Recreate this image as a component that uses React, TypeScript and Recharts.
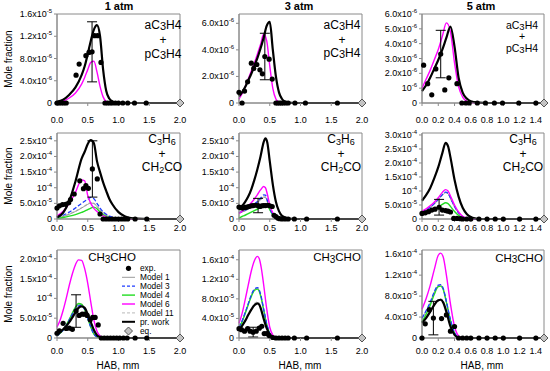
import React from 'react';
import { ComposedChart, Line, Scatter, XAxis, YAxis, ErrorBar, ReferenceArea } from 'recharts';

const FONT = '"Liberation Sans", Arial, sans-serif';

// ---------- Row 1: aC3H4 + pC3H4 (values in 1e-6) ----------
const p1Grid = [0, 0.1, 0.2, 0.3, 0.4, 0.45, 0.5, 0.55, 0.6, 0.65, 0.7, 0.75, 0.8, 0.85, 0.9, 0.95, 1.0, 1.2, 1.5, 2.0];
const p1PrWork = [0.2, 0.6, 1.5, 2.8, 5.0, 6.6, 8.8, 11.2, 13.2, 14.0, 12.0, 6.0, 2.2, 0.8, 0.3, 0.1, 0.03, 0, 0, 0];
const p1Model6 = [0.1, 0.35, 0.9, 1.8, 3.4, 4.6, 6.0, 7.3, 7.5, 5.6, 3.0, 1.1, 0.25, 0.03, 0, 0, 0, 0, 0, 0];
const p1ExpX = [0, 0.03, 0.07, 0.11, 0.15, 0.31, 0.36, 0.47, 0.52, 0.57, 0.61, 0.66, 0.715, 0.78, 0.82, 0.86, 0.9, 0.95, 1.0, 1.07, 1.15, 1.26, 1.45];
const p1ExpY = [0, 0, 0, 0, 0, 5.0, 7.0, 8.5, 9.1, 9.2, 12.1, 12.1, 7.3, 0, 0, 0, 0, 0, 0, 0, 0, 0, 0];
const p1ErrIndex = 9;
const p1ErrValue = 5.4;

const p2Grid = [0, 0.05, 0.1, 0.15, 0.2, 0.25, 0.3, 0.35, 0.4, 0.45, 0.5, 0.55, 0.6, 0.65, 0.7, 0.75, 0.8, 0.9, 1.0, 2.0];
const p2PrWork = [0.5, 0.8, 1.2, 1.7, 2.2, 2.8, 3.4, 4.1, 4.9, 5.8, 6.1, 4.0, 2.0, 0.8, 0.3, 0.1, 0.03, 0, 0, 0];
const p2Model6 = [0.3, 0.7, 1.2, 1.8, 2.4, 3.0, 3.7, 4.4, 5.2, 4.7, 2.8, 1.1, 0.3, 0.05, 0, 0, 0, 0, 0, 0];
const p2ExpX = [0, 0.05, 0.09, 0.14, 0.2, 0.24, 0.29, 0.34, 0.38, 0.42, 0.49, 0.54, 0.6, 0.63, 0.66, 0.69, 0.72, 0.76, 0.8, 0.91, 1.08, 1.6];
const p2ExpY = [0.8, 0, 0.9, 1.6, 3.0, 2.6, 2.9, 2.5, 2.2, 3.5, 3.3, 1.8, 0, 0, 0, 0, 0, 0, 0, 0, 0, 0];
const p2ErrIndex = 9;
const p2ErrValue = 1.75;

const p3Grid = [0, 0.05, 0.1, 0.15, 0.2, 0.25, 0.3, 0.35, 0.4, 0.45, 0.5, 0.55, 0.6, 0.7, 0.8, 1.0, 1.5];
const p3PrWork = [0.8, 1.2, 1.7, 2.3, 2.9, 3.6, 4.4, 5.15, 3.8, 1.7, 0.7, 0.3, 0.12, 0.03, 0, 0, 0];
const p3Model6 = [1.0, 1.6, 2.2, 2.9, 3.6, 4.5, 5.4, 4.8, 2.7, 1.1, 0.4, 0.12, 0.03, 0, 0, 0, 0];
const p3ExpX = [0.02, 0.07, 0.12, 0.17, 0.23, 0.28, 0.33, 0.43, 0.49, 0.54, 0.58, 0.68, 0.78, 0.89, 0.99, 1.19, 1.4];
const p3ExpY = [2.55, 1.3, 0.55, 2.3, 3.3, 0.88, 1.7, 1.3, 0, 0, 0, 0, 0, 0, 0, 0, 0];
const p3ErrIndex = 4;
const p3ErrValue = 1.6;

// ---------- Row 2: C3H6 + CH2CO (values in 1e-4) ----------
const p4Grid = [0, 0.1, 0.2, 0.3, 0.4, 0.45, 0.5, 0.55, 0.6, 0.65, 0.7, 0.75, 0.8, 0.85, 0.9, 1.0, 1.1, 1.2, 1.3, 1.5, 2.0];
const p4PrWork = [0.05, 0.2, 0.58, 1.2, 1.93, 2.15, 2.4, 2.52, 2.42, 1.85, 1.5, 1.17, 0.9, 0.65, 0.47, 0.22, 0.09, 0.03, 0.01, 0, 0];
const p4Model6 = [0.1, 0.25, 0.5, 0.85, 1.25, 1.22, 0.75, 0.5, 0.34, 0.24, 0.16, 0.1, 0.06, 0.03, 0.02, 0, 0, 0, 0, 0, 0];
const p4Model3 = [0.05, 0.12, 0.22, 0.35, 0.5, 0.57, 0.63, 0.69, 0.65, 0.5, 0.35, 0.23, 0.15, 0.09, 0.06, 0.02, 0.01, 0, 0, 0, 0];
const p4Model1 = [0.03, 0.08, 0.15, 0.24, 0.35, 0.41, 0.47, 0.51, 0.5, 0.4, 0.3, 0.2, 0.12, 0.08, 0.05, 0.02, 0.01, 0, 0, 0, 0];
const p4Model11 = [0.03, 0.08, 0.16, 0.25, 0.36, 0.42, 0.48, 0.52, 0.5, 0.4, 0.29, 0.19, 0.12, 0.07, 0.05, 0.02, 0.01, 0, 0, 0, 0];
const p4Model4 = [0.02, 0.05, 0.09, 0.14, 0.21, 0.25, 0.3, 0.35, 0.38, 0.33, 0.22, 0.14, 0.08, 0.05, 0.03, 0.01, 0, 0, 0, 0, 0];
const p4ExpX = [0, 0.04, 0.09, 0.14, 0.19, 0.22, 0.28, 0.37, 0.43, 0.47, 0.51, 0.575, 0.655, 0.7, 0.75, 0.8, 0.85, 0.9, 0.95, 1.0, 1.05, 1.1, 1.15, 1.27, 1.46];
const p4ExpY = [0.35, 0.42, 0.46, 0.47, 0.52, 0.62, 0.8, 1.22, 0.97, 1.07, 0.98, 1.6, 1.28, 0.16, 0, 0, 0, 0, 0, 0, 0, 0, 0, 0, 0];
const p4ErrIndex = 11;
const p4ErrValue = 0.9;

const p5Grid = [0, 0.05, 0.1, 0.15, 0.2, 0.25, 0.3, 0.35, 0.4, 0.43, 0.46, 0.5, 0.55, 0.6, 0.65, 0.7, 0.8, 0.9, 1.0, 2.0];
const p5PrWork = [0.35, 0.42, 0.55, 0.72, 0.95, 1.25, 1.6, 2.0, 2.45, 2.58, 2.45, 1.85, 1.1, 0.55, 0.25, 0.1, 0.02, 0, 0, 0];
const p5Model6 = [0.18, 0.25, 0.33, 0.42, 0.52, 0.64, 0.78, 0.93, 1.04, 1.0, 0.8, 0.45, 0.2, 0.07, 0.02, 0.01, 0, 0, 0, 0];
const p5Model3 = [0.2, 0.24, 0.28, 0.34, 0.4, 0.48, 0.56, 0.66, 0.77, 0.76, 0.6, 0.35, 0.15, 0.05, 0.02, 0.01, 0, 0, 0, 0];
const p5Model1 = [0.18, 0.22, 0.26, 0.31, 0.37, 0.44, 0.52, 0.61, 0.7, 0.69, 0.55, 0.32, 0.13, 0.04, 0.01, 0, 0, 0, 0, 0];
const p5Model11 = [0.19, 0.23, 0.27, 0.32, 0.38, 0.45, 0.53, 0.62, 0.71, 0.7, 0.56, 0.33, 0.14, 0.05, 0.02, 0, 0, 0, 0, 0];
const p5Model4 = [0.03, 0.08, 0.12, 0.17, 0.22, 0.27, 0.32, 0.36, 0.4, 0.42, 0.43, 0.3, 0.13, 0.04, 0.01, 0, 0, 0, 0, 0];
const p5ExpX = [0, 0.03, 0.06, 0.1, 0.13, 0.16, 0.2, 0.23, 0.27, 0.31, 0.34, 0.37, 0.4, 0.43, 0.47, 0.5, 0.54, 0.57, 0.6, 0.63, 0.66, 0.7, 0.75, 0.8, 0.9, 1.1, 1.6];
const p5ExpY = [0.38, 0.36, 0.35, 0.37, 0.38, 0.4, 0.42, 0.43, 0.44, 0.43, 0.4, 0.42, 0.43, 0.43, 0.44, 0.42, 0.4, 0.12, 0.08, 0.03, 0.01, 0, 0, 0, 0, 0, 0];
const p5ErrIndex = 9;
const p5ErrValue = 0.23;

const p6Grid = [0, 0.05, 0.1, 0.15, 0.2, 0.25, 0.29, 0.32, 0.35, 0.4, 0.45, 0.5, 0.55, 0.6, 0.65, 0.7, 0.8, 1.0, 1.5];
const p6PrWork = [0.65, 0.85, 1.1, 1.45, 1.85, 2.35, 2.72, 2.6, 2.2, 1.4, 0.8, 0.4, 0.18, 0.07, 0.02, 0, 0, 0, 0];
const p6Model6 = [0.27, 0.36, 0.47, 0.6, 0.76, 0.95, 1.05, 1.0, 0.82, 0.5, 0.25, 0.1, 0.04, 0.01, 0, 0, 0, 0, 0];
const p6Model3 = [0.24, 0.32, 0.42, 0.55, 0.7, 0.87, 0.96, 0.92, 0.75, 0.45, 0.22, 0.09, 0.03, 0.01, 0, 0, 0, 0, 0];
const p6Model1 = [0.23, 0.31, 0.41, 0.53, 0.68, 0.85, 0.94, 0.9, 0.73, 0.44, 0.21, 0.08, 0.03, 0.01, 0, 0, 0, 0, 0];
const p6Model11 = [0.23, 0.31, 0.41, 0.54, 0.69, 0.86, 0.95, 0.91, 0.74, 0.44, 0.21, 0.08, 0.03, 0.01, 0, 0, 0, 0, 0];
const p6Model4 = [0.18, 0.22, 0.27, 0.34, 0.42, 0.52, 0.58, 0.55, 0.45, 0.27, 0.13, 0.05, 0.02, 0, 0, 0, 0, 0, 0];
const p6ExpX = [0, 0.04, 0.08, 0.12, 0.16, 0.21, 0.25, 0.29, 0.32, 0.35, 0.39, 0.43, 0.47, 0.5, 0.55, 0.6, 0.7, 0.8, 0.9, 1.0, 1.2, 1.4];
const p6ExpY = [0.2, 0.22, 0.26, 0.32, 0.35, 0.42, 0.32, 0.3, 0.28, 0.25, 0.02, 0.02, 0.01, 0, 0, 0, 0, 0, 0, 0, 0, 0];
const p6ErrIndex = 5;
const p6ErrValue = 0.28;

// ---------- Row 3: CH3CHO (values in 1e-4) ----------
const p7Grid = [0, 0.05, 0.1, 0.15, 0.2, 0.25, 0.3, 0.35, 0.4, 0.45, 0.5, 0.55, 0.6, 0.65, 0.7, 0.75, 0.8, 1.0, 2.0];
const p7PrWork = [0.1, 0.15, 0.22, 0.3, 0.4, 0.52, 0.65, 0.76, 0.8, 0.76, 0.6, 0.4, 0.2, 0.07, 0.02, 0, 0, 0, 0];
const p7Model6 = [0.28, 0.45, 0.7, 1.0, 1.33, 1.62, 1.85, 1.97, 1.96, 1.75, 1.38, 0.9, 0.45, 0.17, 0.05, 0.01, 0, 0, 0];
const p7Model3 = [0.06, 0.12, 0.2, 0.31, 0.45, 0.6, 0.73, 0.81, 0.82, 0.72, 0.5, 0.27, 0.1, 0.03, 0.01, 0, 0, 0, 0];
const p7Model1 = [0.06, 0.12, 0.2, 0.32, 0.46, 0.62, 0.76, 0.84, 0.84, 0.74, 0.52, 0.28, 0.11, 0.03, 0.01, 0, 0, 0, 0];
const p7Model11 = [0.06, 0.12, 0.21, 0.33, 0.47, 0.63, 0.77, 0.85, 0.85, 0.75, 0.53, 0.29, 0.11, 0.03, 0.01, 0, 0, 0, 0];
const p7Model4 = [0.06, 0.12, 0.2, 0.32, 0.47, 0.63, 0.78, 0.87, 0.85, 0.72, 0.5, 0.27, 0.1, 0.03, 0.01, 0, 0, 0, 0];
const p7ExpX = [0, 0.04, 0.1, 0.15, 0.2, 0.25, 0.31, 0.36, 0.41, 0.45, 0.49, 0.54, 0.58, 0.62, 0.67, 0.72, 0.77, 0.82, 0.87, 0.92, 0.97, 1.02, 1.08, 1.14, 1.27, 1.46];
const p7ExpY = [0.12, 0.18, 0.37, 0.24, 0.25, 0.22, 0.68, 0.57, 0.6, 0.6, 0.57, 0.46, 0.52, 0.52, 0.33, 0, 0, 0, 0, 0, 0, 0, 0, 0, 0, 0];
const p7ErrIndex = 6;
const p7ErrValue = 0.41;

const p8Grid = [0, 0.05, 0.1, 0.15, 0.2, 0.25, 0.3, 0.33, 0.36, 0.4, 0.45, 0.5, 0.55, 0.6, 0.7, 1.0, 2.0];
const p8PrWork = [0.17, 0.25, 0.35, 0.47, 0.58, 0.67, 0.71, 0.68, 0.58, 0.4, 0.2, 0.07, 0.02, 0, 0, 0, 0];
const p8Model6 = [0.3, 0.5, 0.78, 1.08, 1.37, 1.58, 1.67, 1.62, 1.45, 1.1, 0.6, 0.22, 0.06, 0.01, 0, 0, 0];
const p8Model3 = [0.22, 0.35, 0.52, 0.7, 0.88, 1.0, 1.03, 0.98, 0.85, 0.6, 0.3, 0.1, 0.03, 0, 0, 0, 0];
const p8Model1 = [0.21, 0.34, 0.51, 0.69, 0.87, 0.99, 1.02, 0.97, 0.84, 0.59, 0.29, 0.1, 0.03, 0, 0, 0, 0];
const p8Model11 = [0.18, 0.26, 0.37, 0.49, 0.6, 0.7, 0.74, 0.71, 0.6, 0.42, 0.21, 0.07, 0.02, 0, 0, 0, 0];
const p8Model4 = [0.2, 0.33, 0.5, 0.68, 0.85, 0.97, 1.0, 0.95, 0.82, 0.58, 0.28, 0.09, 0.02, 0, 0, 0, 0];
const p8ExpX = [0, 0.04, 0.09, 0.14, 0.18, 0.23, 0.28, 0.33, 0.37, 0.41, 0.45, 0.49, 0.55, 0.6, 0.65, 0.7, 0.75, 0.8, 0.9, 1.1, 1.6];
const p8ExpY = [0.19, 0.17, 0.14, 0.19, 0.14, 0.12, 0.14, 0.2, 0.24, 0.09, 0.09, 0.05, 0.01, 0, 0, 0, 0, 0, 0, 0, 0];
const p8ErrIndex = 5;
const p8ErrValue = 0.1;

const p9Grid = [0, 0.05, 0.1, 0.15, 0.2, 0.23, 0.26, 0.3, 0.35, 0.4, 0.45, 0.5, 0.6, 1.0, 1.5];
const p9PrWork = [0.29, 0.38, 0.5, 0.63, 0.72, 0.73, 0.68, 0.5, 0.22, 0.06, 0.01, 0, 0, 0, 0];
const p9Model6 = [0.55, 0.75, 1.0, 1.3, 1.58, 1.62, 1.55, 1.2, 0.65, 0.22, 0.04, 0, 0, 0, 0];
const p9Model3 = [0.38, 0.52, 0.68, 0.88, 1.01, 1.02, 0.95, 0.7, 0.35, 0.1, 0.02, 0, 0, 0, 0];
const p9Model1 = [0.37, 0.51, 0.67, 0.87, 1.0, 1.01, 0.94, 0.69, 0.34, 0.1, 0.02, 0, 0, 0, 0];
const p9Model11 = [0.3, 0.39, 0.51, 0.64, 0.73, 0.75, 0.7, 0.52, 0.23, 0.06, 0.01, 0, 0, 0, 0];
const p9Model4 = [0.3, 0.45, 0.62, 0.83, 0.98, 0.99, 0.93, 0.68, 0.33, 0.09, 0.01, 0, 0, 0, 0];
const p9ExpX = [0, 0.04, 0.09, 0.14, 0.24, 0.3, 0.35, 0.4, 0.45, 0.5, 0.55, 0.6, 0.7, 0.8, 0.9, 1.0, 1.2, 1.4];
const p9ExpY = [0, 0.27, 0.54, 0.38, 0.37, 0.44, 0.13, 0.22, 0, 0, 0, 0, 0, 0, 0, 0, 0, 0];
const p9ErrIndex = 3;
const p9ErrValue = 0.32;

// ---------- Axis ticks ----------
const xTicks2 = [0, 0.5, 1.0, 1.5, 2.0];
const xTicks15 = [0, 0.2, 0.4, 0.6, 0.8, 1.0, 1.2, 1.4];

const p1YTicks = [0, 4, 8, 12, 16];
const p1YMant = ['0', '4.0x10', '8.0x10', '1.2x10', '1.6x10'];
const p1YExp = ['', '-6', '-6', '-5', '-5'];
const p2YTicks = [0, 2, 4, 6];
const p2YMant = ['0', '2.0x10', '4.0x10', '6.0x10'];
const p2YExp = ['', '-6', '-6', '-6'];
const p3YTicks = [0, 1, 2, 3, 4, 5, 6];
const p3YMant = ['0', '10', '2.0x10', '3.0x10', '4.0x10', '5.0x10', '6.0x10'];
const p3YExp = ['', '-6', '-6', '-6', '-6', '-6', '-6'];
const p45YTicks = [0, 0.5, 1.0, 1.5, 2.0, 2.5];
const p45YMant = ['0', '5.0x10', '10', '1.5x10', '2.0x10', '2.5x10'];
const p45YExp = ['', '-5', '-4', '-4', '-4', '-4'];
const p6YTicks = [0, 0.5, 1.0, 1.5, 2.0, 2.5, 3.0];
const p6YMant = ['0', '5.0x10', '10', '1.5x10', '2.0x10', '2.5x10', '3.0x10'];
const p6YExp = ['', '-5', '-4', '-4', '-4', '-4', '-4'];
const p7YTicks = [0, 0.5, 1.0, 1.5, 2.0];
const p7YMant = ['0', '5.0x10', '10', '1.5x10', '2.0x10'];
const p7YExp = ['', '-5', '-4', '-4', '-4'];
const p89YTicks = [0, 0.4, 0.8, 1.2, 1.6];
const p89YMant = ['0', '4.0x10', '8.0x10', '1.2x10', '1.6x10'];
const p89YExp = ['', '-5', '-5', '-4', '-4'];

const AXIS = '#8a8a8a';

const pts = (xs: number[], ys: number[]) => xs.map((x, i) => ({ x, y: ys[i] }));

const Dot = (p: any) => <circle cx={p.cx} cy={p.cy} r={2.6} fill="#000" />;
const Diamond = (p: any) => {
  const { cx, cy } = p;
  return <polygon points={`${cx},${cy - 4} ${cx + 4},${cy} ${cx},${cy + 4} ${cx - 4},${cy}`} fill="#c4c4c4" stroke="#555" strokeWidth={1} />;
};

function makeYTick(ticks: number[], mant: string[], exps: string[]) {
  return (p: any) => {
    const v = p.payload.value;
    const i = ticks.findIndex((t) => Math.abs(t - v) < 1e-9);
    if (i < 0) return <g />;
    return (
      <text x={p.x} y={p.y} dy={3} textAnchor="end" fontSize={9} fontFamily={FONT} fill="#000">
        <tspan>{mant[i]}</tspan>
        {exps[i] ? <tspan dy={-4} fontSize={6}>{exps[i]}</tspan> : null}
      </text>
    );
  };
}

function Panel(props: any) {
  const { L, T, R, B, xMax, xTicks, yMax, yTicks, yMant, yExp, grid, m1, m3, m4, m6, m11, pw, ex, ey, errI, errV, tickMargin } = props;
  const ML = 55, MT = 8, MR = 8, XH = 28;
  const width = R - L + ML + MR;
  const height = B - T + MT + XH;
  const exp = ex.map((x: number, i: number) => ({ x, y: ey[i], err: i === errI ? errV : undefined }));
  const line = (ys: number[] | undefined, stroke: string, w: number, dash?: string) =>
    ys ? (
      <Line data={pts(grid, ys)} dataKey="y" type="monotone" stroke={stroke} strokeWidth={w} strokeDasharray={dash}
        dot={false} activeDot={false} isAnimationActive={false} />
    ) : null;
  return (
    <div style={{ position: 'absolute', left: L - ML, top: T - MT }}>
      <ComposedChart width={width} height={height} margin={{ top: MT, right: MR, bottom: 0, left: 0 }}>
        <XAxis type="number" dataKey="x" domain={[0, xMax]} ticks={xTicks} interval={0} height={XH}
          tickFormatter={(v: number) => v.toFixed(1)} tick={{ fontSize: 9, fill: '#000', fontFamily: FONT }}
          stroke={AXIS} tickSize={3} tickMargin={tickMargin} />
        <YAxis type="number" dataKey="y" domain={[0, yMax]} ticks={yTicks} interval={0} width={ML}
          tick={makeYTick(yTicks, yMant, yExp)} stroke={AXIS} tickSize={3} />
        <ReferenceArea x1={0} x2={xMax} y1={0} y2={yMax} fill="none" stroke={AXIS} strokeWidth={1} fillOpacity={0} />
        {line(m11, '#c8c8c8', 1.4, '3 2')}
        {line(m1, '#9a9a9a', 1)}
        {line(m4, '#22dd22', 1.4)}
        {line(m3, '#1f3cff', 1.3, '4 2')}
        {line(m6, '#ff00ff', 1.4)}
        {line(pw, '#000000', 2.2)}
        <Scatter data={exp} dataKey="y" shape={Dot} isAnimationActive={false}>
          <ErrorBar dataKey="err" direction="y" width={5} stroke="#000" strokeWidth={1} />
        </Scatter>
        <Scatter data={[{ x: xMax, y: 0 }]} dataKey="y" shape={Diamond} isAnimationActive={false} />
      </ComposedChart>
    </div>
  );
}

const C1 = { L: 57, R: 180 };
const C2 = { L: 238.5, R: 361.5 };
const C3 = { L: 422, R: 544 };
const R1 = { T: 14, B: 103 };
const R2 = { T: 133, B: 219 };
const R3 = { T: 250, B: 338 };

const txt = { fontFamily: FONT, fill: '#000' } as any;

export default function App() {
  return (
    <div style={{ position: 'absolute', left: 0, top: 0, width: 550, height: 371, background: '#fff', overflow: 'hidden' }}>
      <Panel {...C1} {...R1} xMax={2} xTicks={xTicks2} yMax={16} yTicks={p1YTicks} yMant={p1YMant} yExp={p1YExp}
        grid={p1Grid} pw={p1PrWork} m6={p1Model6} ex={p1ExpX} ey={p1ExpY} errI={p1ErrIndex} errV={p1ErrValue} tickMargin={11} />
      <Panel {...C2} {...R1} xMax={2} xTicks={xTicks2} yMax={6.7} yTicks={p2YTicks} yMant={p2YMant} yExp={p2YExp}
        grid={p2Grid} pw={p2PrWork} m6={p2Model6} ex={p2ExpX} ey={p2ExpY} errI={p2ErrIndex} errV={p2ErrValue} tickMargin={11} />
      <Panel {...C3} {...R1} xMax={1.5} xTicks={xTicks15} yMax={6} yTicks={p3YTicks} yMant={p3YMant} yExp={p3YExp}
        grid={p3Grid} pw={p3PrWork} m6={p3Model6} ex={p3ExpX} ey={p3ExpY} errI={p3ErrIndex} errV={p3ErrValue} tickMargin={11} />

      <Panel {...C1} {...R2} xMax={2} xTicks={xTicks2} yMax={2.75} yTicks={p45YTicks} yMant={p45YMant} yExp={p45YExp}
        grid={p4Grid} pw={p4PrWork} m6={p4Model6} m3={p4Model3} m1={p4Model1} m11={p4Model11} m4={p4Model4}
        ex={p4ExpX} ey={p4ExpY} errI={p4ErrIndex} errV={p4ErrValue} tickMargin={3} />
      <Panel {...C2} {...R2} xMax={2} xTicks={xTicks2} yMax={2.75} yTicks={p45YTicks} yMant={p45YMant} yExp={p45YExp}
        grid={p5Grid} pw={p5PrWork} m6={p5Model6} m3={p5Model3} m1={p5Model1} m11={p5Model11} m4={p5Model4}
        ex={p5ExpX} ey={p5ExpY} errI={p5ErrIndex} errV={p5ErrValue} tickMargin={3} />
      <Panel {...C3} {...R2} xMax={1.5} xTicks={xTicks15} yMax={3.07} yTicks={p6YTicks} yMant={p6YMant} yExp={p6YExp}
        grid={p6Grid} pw={p6PrWork} m6={p6Model6} m3={p6Model3} m1={p6Model1} m11={p6Model11} m4={p6Model4}
        ex={p6ExpX} ey={p6ExpY} errI={p6ErrIndex} errV={p6ErrValue} tickMargin={3} />

      <Panel {...C1} {...R3} xMax={2} xTicks={xTicks2} yMax={2.22} yTicks={p7YTicks} yMant={p7YMant} yExp={p7YExp}
        grid={p7Grid} pw={p7PrWork} m6={p7Model6} m3={p7Model3} m1={p7Model1} m11={p7Model11} m4={p7Model4}
        ex={p7ExpX} ey={p7ExpY} errI={p7ErrIndex} errV={p7ErrValue} tickMargin={7} />
      <Panel {...C2} {...R3} xMax={2} xTicks={xTicks2} yMax={1.8} yTicks={p89YTicks} yMant={p89YMant} yExp={p89YExp}
        grid={p8Grid} pw={p8PrWork} m6={p8Model6} m3={p8Model3} m1={p8Model1} m11={p8Model11} m4={p8Model4}
        ex={p8ExpX} ey={p8ExpY} errI={p8ErrIndex} errV={p8ErrValue} tickMargin={7} />
      <Panel {...C3} {...R3} xMax={1.5} xTicks={xTicks15} yMax={1.68} yTicks={p89YTicks} yMant={p89YMant} yExp={p89YExp}
        grid={p9Grid} pw={p9PrWork} m6={p9Model6} m3={p9Model3} m1={p9Model1} m11={p9Model11} m4={p9Model4}
        ex={p9ExpX} ey={p9ExpY} errI={p9ErrIndex} errV={p9ErrValue} tickMargin={7} />

      <svg width={550} height={371} style={{ position: 'absolute', left: 0, top: 0, pointerEvents: 'none' }}>
        {/* column titles */}
        <text {...txt} x={119} y={10} textAnchor="middle" fontSize={11} fontWeight="bold">1 atm</text>
        <text {...txt} x={299} y={10} textAnchor="middle" fontSize={11} fontWeight="bold">3 atm</text>
        <text {...txt} x={481} y={10} textAnchor="middle" fontSize={11} fontWeight="bold">5 atm</text>

        {/* y titles */}
        {[59, 176, 294].map((cy) => (
          <text key={cy} {...txt} transform={`translate(12, ${cy}) rotate(-90)`} textAnchor="middle" fontSize={10}>Mole fraction</text>
        ))}
        {/* x titles */}
        {[118, 300, 482].map((cx) => (
          <text key={cx} {...txt} x={cx} y={368.5} textAnchor="middle" fontSize={10}>HAB, mm</text>
        ))}

        {/* row 1 species */}
        {[[163, 29, 43.5, 57.5, 12], [342, 29, 43.5, 56.5, 12], [522, 28.5, 40, 51.5, 10.5]].map(([cx, a, b, c, fs]) => (
          <g key={cx}>
            <text {...txt} x={cx} y={a} textAnchor="middle" fontSize={fs}>aC<tspan fontSize={fs - 1} dy={1}>3</tspan><tspan dy={-1}>H4</tspan></text>
            <text {...txt} x={cx} y={b} textAnchor="middle" fontSize={fs}>+</text>
            <text {...txt} x={cx} y={c} textAnchor="middle" fontSize={fs}>pC<tspan fontSize={fs - 1} dy={1}>3</tspan><tspan dy={-1}>H4</tspan></text>
          </g>
        ))}
        {/* row 2 species */}
        {[162, 341, 523].map((cx) => (
          <g key={cx}>
            <text {...txt} x={cx} y={143} textAnchor="middle" fontSize={12}>C<tspan fontSize={9} dy={2}>3</tspan><tspan dy={-2}>H</tspan><tspan fontSize={9} dy={2}>6</tspan></text>
            <text {...txt} x={cx} y={158} textAnchor="middle" fontSize={12}>+</text>
            <text {...txt} x={cx} y={170.5} textAnchor="middle" fontSize={12}>CH<tspan fontSize={9} dy={2}>2</tspan><tspan dy={-2}>CO</tspan></text>
          </g>
        ))}
        {/* row 3 species */}
        {[[112, 261], [337, 261], [519, 261.5]].map(([cx, y]) => (
          <text key={cx} {...txt} x={cx} y={y} textAnchor="middle" fontSize={11.5}>CH<tspan fontSize={10} dy={1.5}>3</tspan><tspan dy={-1.5}>CHO</tspan></text>
        ))}

        {/* legend */}
        <g>
          <circle cx={128.5} cy={268.3} r={2.6} fill="#000" />
          <line x1={122} x2={135} y1={277.3} y2={277.3} stroke="#9a9a9a" strokeWidth={1} />
          <line x1={122} x2={135} y1={286.2} y2={286.2} stroke="#1f3cff" strokeWidth={1.3} strokeDasharray="3 2" />
          <line x1={122} x2={135} y1={295.1} y2={295.1} stroke="#22dd22" strokeWidth={1.4} />
          <line x1={122} x2={135} y1={304} y2={304} stroke="#ff00ff" strokeWidth={1.4} />
          <line x1={122} x2={135} y1={312.9} y2={312.9} stroke="#c8c8c8" strokeWidth={1.4} strokeDasharray="3 2" />
          <line x1={122} x2={135} y1={321.8} y2={321.8} stroke="#000" strokeWidth={2} />
          <polygon points="128.5,327 132.5,331 128.5,335 124.5,331" fill="#c4c4c4" stroke="#555" strokeWidth={1} />
          {['exp.', 'Model 1', 'Model 3', 'Model 4', 'Model 6', 'Model 11', 'pr. work', 'eq.'].map((s, i) => (
            <text key={s} {...txt} x={140} y={268.3 + i * 8.9 + 2.9} fontSize={8.3}>{s}</text>
          ))}
        </g>
      </svg>
    </div>
  );
}
